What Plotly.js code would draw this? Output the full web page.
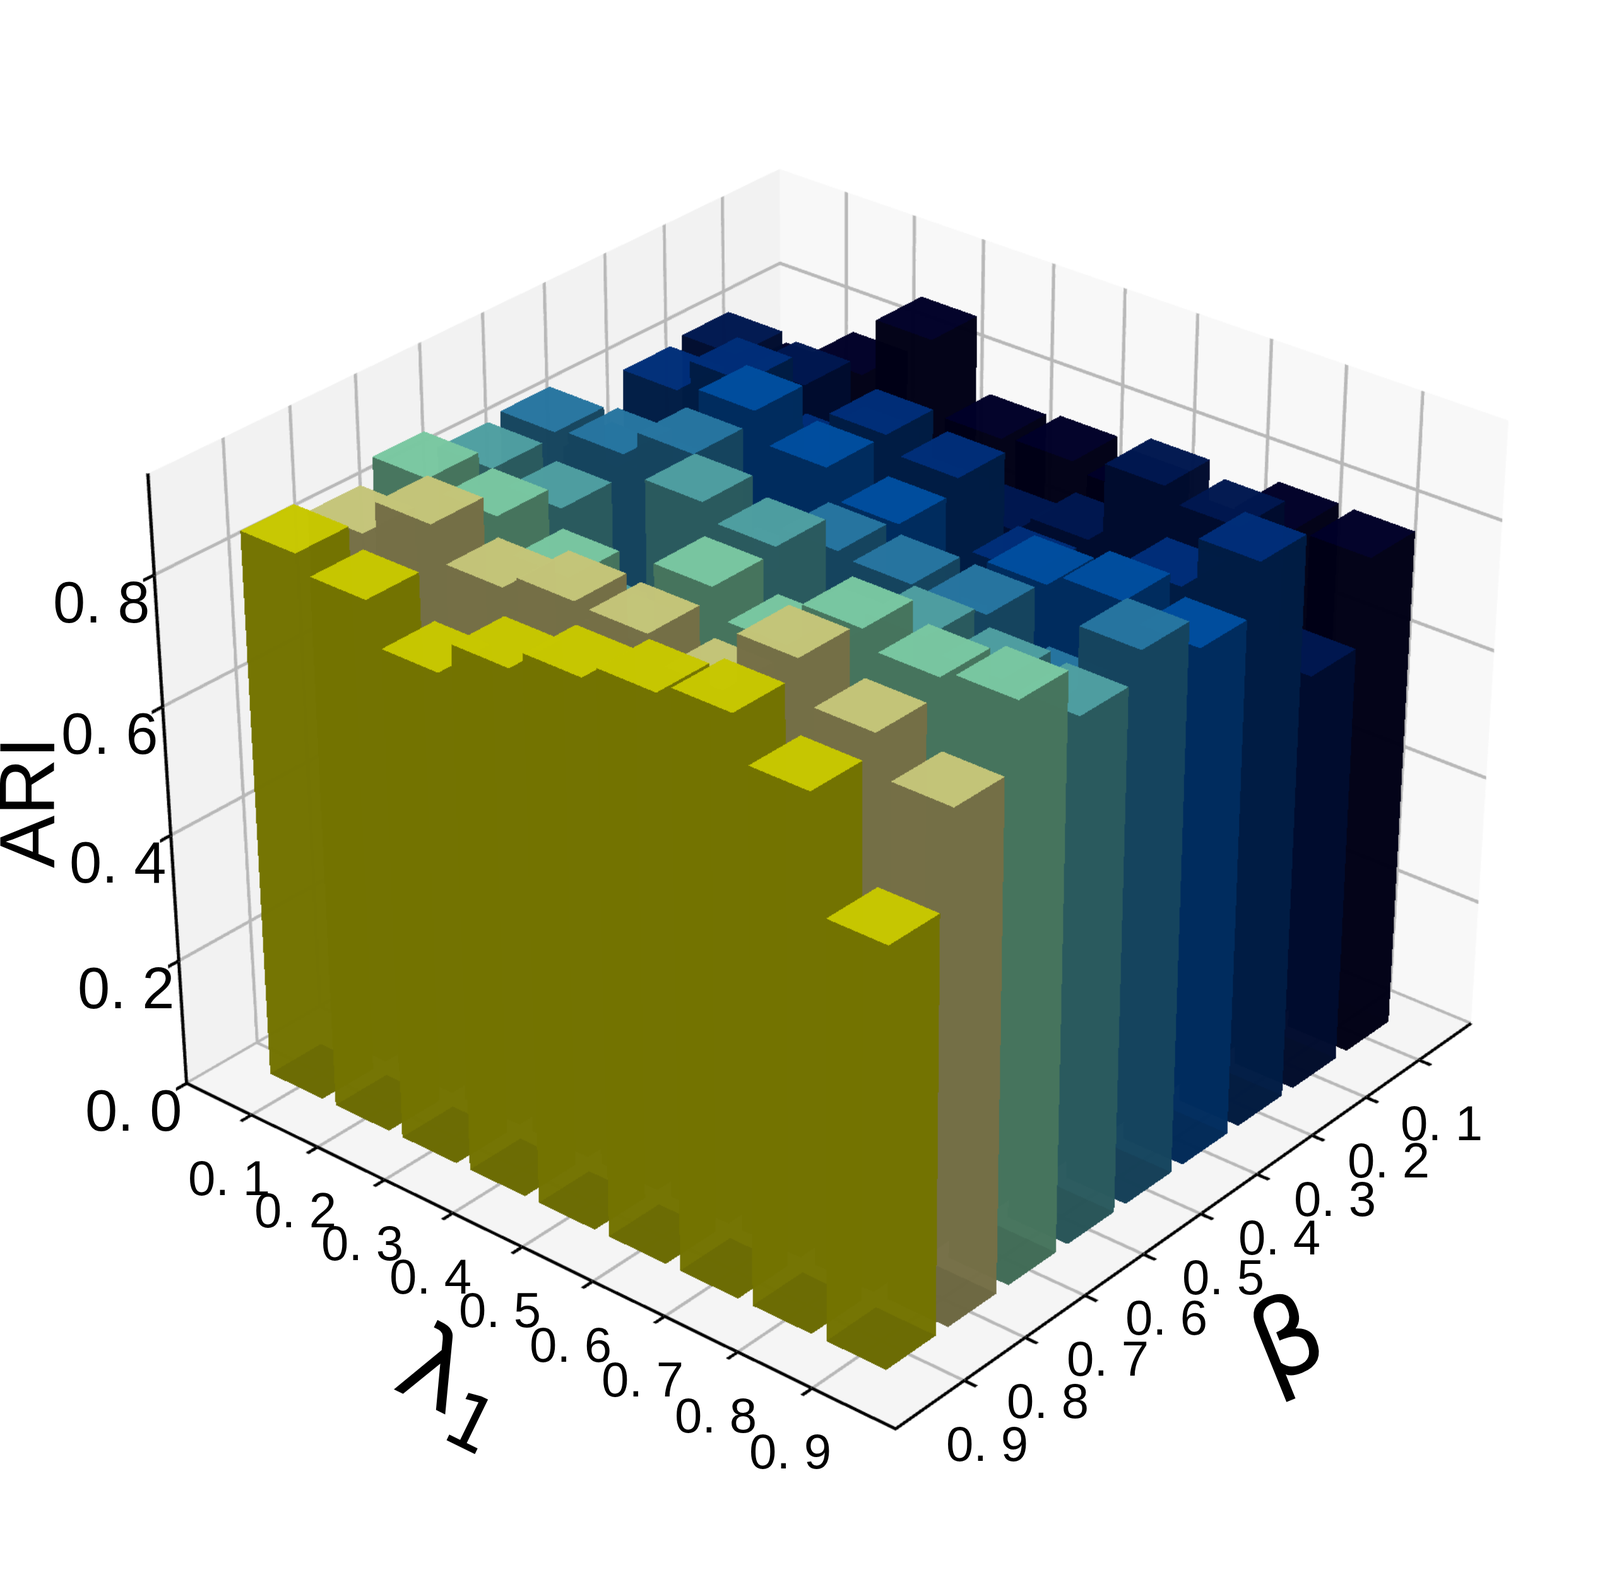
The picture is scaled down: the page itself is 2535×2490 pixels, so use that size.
<!DOCTYPE html>
<html><head><meta charset="utf-8">
<script src="https://cdn.plot.ly/plotly-3.0.1.min.js"></script>
<style>html,body{margin:0;padding:0;background:#fff;overflow:hidden}
#wrap{position:absolute;left:0;top:0;width:2535px;height:2490px;overflow:hidden}
#plot{position:absolute}</style></head>
<body><div id="wrap"><div id="plot"></div></div>
<script>
// ARI indexed by lambda1 = 0.1 ... 0.9, one list per beta
const lambdaLabels = ["0. 1","0. 2","0. 3","0. 4","0. 5","0. 6","0. 7","0. 8","0. 9"];
const betaLabels   = ["0. 1","0. 2","0. 3","0. 4","0. 5","0. 6","0. 7","0. 8","0. 9"];
const gridTicks = [1,2,3,4,5,6,7,8,9];
const zTickVals = [0,0.2,0.4,0.6,0.8];
const zTickLabels = ["0. 0","0. 2","0. 4","0. 6","0. 8"];
const ari_b01 = [.723,.779,.873,.759,.765,.752,.718,.785,.784];
const ari_b02 = [.818,.81,.748,.707,.707,.735,.859,.838,.656];
const ari_b03 = [.81,.863,.784,.862,.837,.733,.682,.80,.88];
const ari_b04 = [.738,.748,.906,.861,.817,.677,.811,.83,.804];
const ari_b05 = [.841,.848,.889,.748,.827,.82,.818,.738,.854];
const ari_b06 = [.834,.815,.666,.908,.884,.793,.837,.819,.811];
const ari_b07 = [.868,.853,.803,.748,.876,.833,.902,.876,.888];
const ari_b08 = [.835,.891,.84,.863,.859,.82,.912,.85,.789];
const ari_b09 = [.856,.83,.766,.817,.848,.871,.887,.821,.647];
const ariRows = [ari_b01,ari_b02,ari_b03,ari_b04,ari_b05,ari_b06,ari_b07,ari_b08,ari_b09];
const topColors    = ["#00002a","#001954","#00307f","#0052a6","#297ba8","#53a7a9","#7fd1a9","#cecf7f","#d1d100"];
const sideColors   = ["#000016","#000c2e","#001c44","#002c5e","#15445e","#2a5a5e","#46745d","#756f46","#737300"];
const bottomColors = ["#000007","#00040e","#000814","#000d1c","#06141c","#0d1b1c","#15231c","#232115","#232300"];
const bw = 0.4, z0 = 0.004;
const X=[],Y=[],Z=[],I=[],J=[],K=[],FC=[];
function quad(a,b,c,d,col){const n=X.length;
 [a,b,c,d].forEach(p=>{X.push(p[0]);Y.push(p[1]);Z.push(p[2]);});
 I.push(n,n);J.push(n+1,n+2);K.push(n+2,n+3);FC.push(col,col);}
// painter's order: the camera is on the +x,+y,+z side
ariRows.forEach((row,bi)=>row.forEach((h,li)=>{
 const x=bi+1,y=li+1,x0=x-bw,x1=x+bw,y0=y-bw,y1=y+bw,t=topColors[bi],s=sideColors[bi];
 quad([x0,y0,z0],[x0,y1,z0],[x0,y1,h],[x0,y0,h],s);
 quad([x0,y0,z0],[x1,y0,z0],[x1,y0,h],[x0,y0,h],s);
 quad([x0,y0,z0],[x1,y0,z0],[x1,y1,z0],[x0,y1,z0],bottomColors[bi]);
 quad([x1,y0,z0],[x1,y1,z0],[x1,y1,h],[x1,y0,h],s);
 quad([x0,y1,z0],[x1,y1,z0],[x1,y1,h],[x0,y1,h],s);
 quad([x0,y0,h],[x1,y0,h],[x1,y1,h],[x0,y1,h],t);
}));
const k=3.2, W=Math.round(2535*k), H=Math.round(2490*k);
const el=30*Math.PI/180, az=40*Math.PI/180, d=6.59;
const plot=document.getElementById('plot');
plot.style.left=(-(W-2535)/2+53)+'px'; plot.style.top=(-(H-2490)/2-43)+'px';
function ax(extra){return Object.assign({showline:true,linecolor:'#000',linewidth:4,showgrid:true,gridcolor:'#b8b8b8',gridwidth:4,
 ticks:'outside',ticklen:7,tickwidth:4,tickcolor:'#000',zeroline:false,showspikes:false,showbackground:true,showticklabels:false,title:{text:''}},extra);}
const XMAX=10.1, YMAX=10.1;
const tickFont={family:'"Liberation Sans"',size:78,color:'#000'};
const zFont={family:'"Liberation Sans"',size:92,color:'#000'};
const ann=[];
function add(x,y,z,text,font,xs,ys,ang){ann.push({x,y,z,text,font,xshift:xs,yshift:ys,textangle:ang||0,showarrow:false,xanchor:'center',yanchor:'middle'});}
gridTicks.forEach((t,i)=>add(t,YMAX,0,betaLabels[i],tickFont,36,-100));
gridTicks.forEach((t,i)=>add(XMAX,t,0,lambdaLabels[i],tickFont,-35,-100));
zTickVals.forEach((t,i)=>add(XMAX,0,t,zTickLabels[i],zFont,-84,-43));
add(XMAX,0,.5,'ARI',{family:'"Liberation Sans"',size:125,color:'#000'},-221,-49,-90);
add(XMAX,5,0,'λ<sub>1</sub>',{family:'"DejaVu Sans"',size:170,color:'#000'},-108,-220,26);
add(5,YMAX,0,'β',{family:'"DejaVu Sans"',size:170,color:'#000'},136,-196,-22);
Plotly.newPlot(plot,[{type:'mesh3d',x:X,y:Y,z:Z,i:I,j:J,k:K,facecolor:FC,flatshading:true,hoverinfo:'skip',opacity:0.88,
 lighting:{ambient:1,diffuse:0,specular:0,roughness:1,fresnel:0},showscale:false}],{
 width:W,height:H,paper_bgcolor:'#fff',margin:{l:0,r:0,t:0,b:0},
 scene:{domain:{x:[0,1],y:[0,1]},aspectmode:'manual',aspectratio:{x:1,y:1,z:.759},annotations:ann,
  camera:{eye:{x:d*Math.cos(el)*Math.cos(az),y:d*Math.cos(el)*Math.sin(az),z:d*Math.sin(el)},center:{x:0,y:0,z:0},up:{x:0,y:0,z:1},projection:{type:'perspective'}},
  xaxis:ax({range:[0,XMAX],tickmode:'array',tickvals:gridTicks,ticktext:betaLabels,backgroundcolor:'#f8f8f8'}),
  yaxis:ax({range:[0,YMAX],tickmode:'array',tickvals:gridTicks,ticktext:lambdaLabels,backgroundcolor:'#f2f2f2'}),
  zaxis:ax({range:[0,.95],tickmode:'array',tickvals:zTickVals,ticktext:zTickLabels,backgroundcolor:'#f5f5f5'})
 }},{displayModeBar:false});
</script></body></html>
